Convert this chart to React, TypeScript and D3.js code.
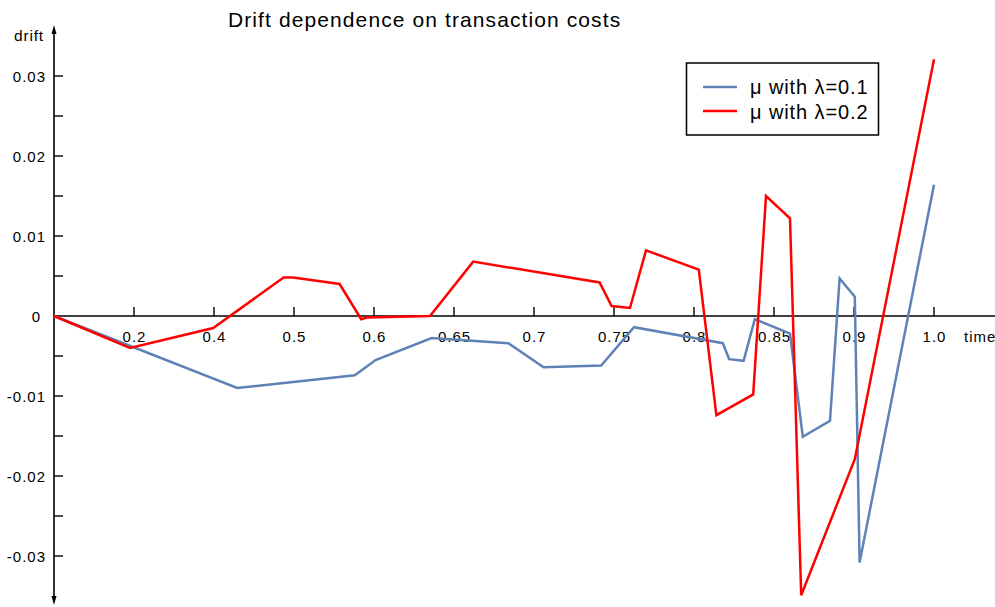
import React from "react";
import * as d3 from "d3";

const title = "Drift dependence on transaction costs";
const xTickValues = [0.2, 0.4, 0.5, 0.6, 0.65, 0.7, 0.75, 0.8, 0.85, 0.9, 1.0];
const xTickLabels = ["0.2", "0.4", "0.5", "0.6", "0.65", "0.7", "0.75", "0.8", "0.85", "0.9", "1.0"];
const xBreaks = [0, 0.2, 0.4, 0.5, 0.6, 0.65, 0.7, 0.75, 0.8, 0.85, 0.9, 1.0];
const yMajor = [0.03, 0.02, 0.01, 0, -0.01, -0.02, -0.03];
const yMajorLabels = ["0.03", "0.02", "0.01", "0", "-0.01", "-0.02", "-0.03"];
const yMinor = [0.025, 0.015, 0.005, -0.005, -0.015, -0.025];

const blueT = [0, 0.429, 0.576, 0.601, 0.636, 0.684, 0.706, 0.742, 0.7625, 0.818, 0.822, 0.831, 0.838, 0.86, 0.868, 0.885, 0.891, 0.901, 0.907, 1.0];
const blueV = [0, -0.009, -0.0074, -0.0055, -0.00275, -0.0034, -0.0064, -0.0062, -0.0014, -0.0034, -0.0054, -0.0056, -0.0004, -0.0022, -0.0151, -0.0131, 0.0047, 0.0024, -0.0308, 0.0164];

const redT = [0, 0.19, 0.398, 0.487, 0.499, 0.557, 0.584, 0.591, 0.635, 0.662, 0.741, 0.7485, 0.76, 0.77, 0.803, 0.814, 0.837, 0.845, 0.86, 0.867, 0.901, 1.0];
const redV = [0, -0.004, -0.0015, 0.0048, 0.0048, 0.004, -0.0004, -0.0002, 0, 0.0068, 0.0042, 0.00125, 0.001, 0.0082, 0.0058, -0.0124, -0.0098, 0.015, 0.0122, -0.0349, -0.0179, 0.0321];

const seriesNames = ["μ with λ=0.1", "μ with λ=0.2"];
const seriesColors = ["#5f82b6", "#ff0000"];

export default function App() {
  const W = 995, H = 607;
  const x0 = 54, step = 80;
  const x = d3.scaleLinear().domain(xBreaks).range(xBreaks.map((_, i) => x0 + i * step));
  const y = d3.scaleLinear().domain([-0.01, 0.01]).range([396, 236]);
  const line = d3.line<[number, number]>().x(d => x(d[0])).y(d => y(d[1]));
  const blue = blueT.map((t, i) => [t, blueV[i]] as [number, number]);
  const red = redT.map((t, i) => [t, redV[i]] as [number, number]);
  const font = "'Liberation Sans', Arial, Helvetica, sans-serif";
  const y0 = y(0);
  const ls = 1;
  return (
    <div style={{ position: "absolute", left: 0, top: 0 }}>
      <svg width={W} height={H} style={{ display: "block" }} fontFamily={font}>
        <rect width={W} height={H} fill="white" />
        <text x={228} y={27} fontSize={21} letterSpacing={1.1}>{title}</text>
        {/* y axis */}
        <line x1={x0} x2={x0} y1={30} y2={600} stroke="black" strokeWidth={1.6} />
        <path d={`M${x0},25 L${x0 - 2.5},34 L${x0 + 2.5},34 Z`} fill="black" />
        <path d={`M${x0},605 L${x0 - 2.5},596 L${x0 + 2.5},596 Z`} fill="black" />
        <text x={14} y={41} fontSize={15.5} letterSpacing={0.8}>drift</text>
        {yMajor.map((v, i) => (
          <g key={"ym" + i}>
            {v !== 0 && <line x1={x0} x2={x0 + 9} y1={y(v)} y2={y(v)} stroke="black" strokeWidth={1.4} />}
            <text x={v === 0 ? 41 : 46} y={y(v) + 5.5} fontSize={15} letterSpacing={ls} textAnchor="end">{yMajorLabels[i]}</text>
          </g>
        ))}
        {yMinor.map((v, i) => (
          <line key={"yn" + i} x1={x0} x2={x0 + 9} y1={y(v)} y2={y(v)} stroke="black" strokeWidth={1.4} />
        ))}
        {/* x axis */}
        <line x1={x0} x2={W} y1={y0} y2={y0} stroke="black" strokeWidth={1.6} />
        {xTickValues.map((v, i) => (
          <g key={"xt" + i}>
            <line x1={x(v)} x2={x(v)} y1={y0} y2={y0 - 9} stroke="black" strokeWidth={1.4} />
            <text x={x(v) + ls / 2} y={342} fontSize={15} letterSpacing={ls} textAnchor="middle">{xTickLabels[i]}</text>
          </g>
        ))}
        <text x={964} y={342} fontSize={15} letterSpacing={ls}>time</text>
        {/* series */}
        <path d={line(blue) || ""} fill="none" stroke={seriesColors[0]} strokeWidth={2.5} strokeLinejoin="miter" />
        <path d={line(red) || ""} fill="none" stroke={seriesColors[1]} strokeWidth={2.5} strokeLinejoin="miter" />
        {/* legend */}
        <rect x={686.5} y={63} width={192} height={72} fill="white" stroke="black" strokeWidth={1.5} />
        {seriesNames.map((n, i) => (
          <g key={"lg" + i}>
            <line x1={703} x2={737} y1={87 + i * 24} y2={87 + i * 24} stroke={seriesColors[i]} strokeWidth={2.5} />
            <text x={750} y={93.5 + i * 25.5} fontSize={20} letterSpacing={0.9}>{n}</text>
          </g>
        ))}
      </svg>
    </div>
  );
}
